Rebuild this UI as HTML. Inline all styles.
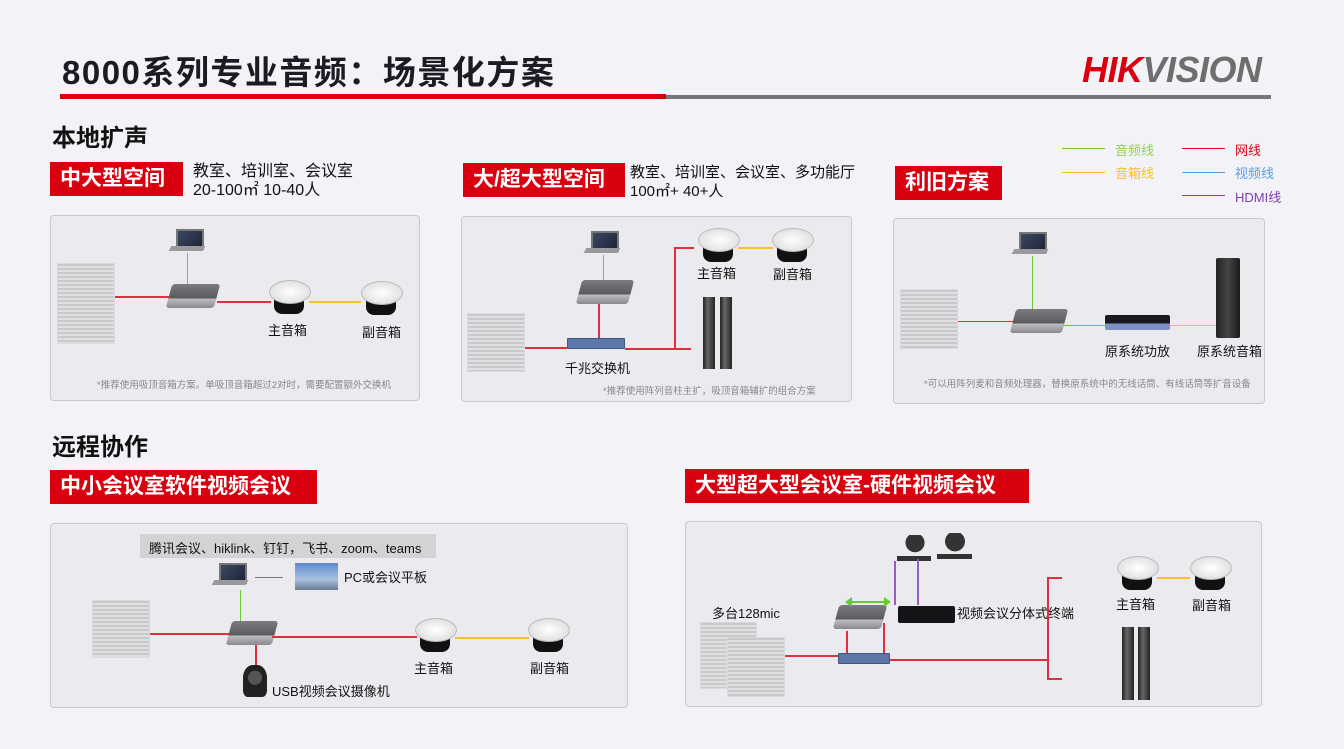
<!DOCTYPE html>
<html><head><meta charset="utf-8">
<style>
*{margin:0;padding:0;box-sizing:border-box}
body{width:1344px;height:749px;background:#f3f3f7;position:relative;overflow:hidden;font-family:"Liberation Sans","Noto Sans CJK SC",sans-serif;color:#111}
.a{position:absolute}
.panel{position:absolute;background:#ebebef;border:1px solid #c9c9cc;border-radius:4px}
.tag{position:absolute;background:#d9000f;color:#fff;font-weight:bold;font-size:21px;line-height:34px;padding-left:10px;white-space:nowrap}
.h2{position:absolute;font-weight:bold;font-size:24px;color:#111}
.mic{position:absolute;background:repeating-linear-gradient(#c9c9cc 0 2px,#e0e0e3 2px 4px);border:1px solid #dadadd}
.lap{position:absolute;width:34px;height:24px}
.lap:before{content:"";position:absolute;left:6px;top:0;width:24px;height:17px;background:linear-gradient(135deg,#3b4a66,#1c2233);border:2px solid #777}
.lap:after{content:"";position:absolute;left:0;top:17px;width:34px;height:5px;background:#9a9a9e;transform:skewX(-30deg)}
.hub{position:absolute;height:24px;background:linear-gradient(#7b7b7f,#5a5a5e 60%,#c0c0c4 60%,#8a8a8e);border-radius:3px;transform:skewX(-15deg)}
.spk{position:absolute;width:40px;height:36px}
.spk:before{content:"";position:absolute;left:0;top:0;width:40px;height:22px;border-radius:50%;background:radial-gradient(#fff,#d6d6d6);border:1px solid #bbb;z-index:1}
.spk:after{content:"";position:absolute;left:5px;top:12px;width:30px;height:22px;background:#111;border-radius:0 0 8px 8px}
.col{position:absolute;width:12px;background:linear-gradient(90deg,#222,#666 40%,#222);}
.sw{position:absolute;height:11px;background:#5b78a8;border:1px solid #3d5682;border-radius:1px}
.ln{position:absolute}
.r{background:#e03040}.g{background:#6cc832}.y{background:#f5c02a}.p{background:#9a5cc0}
.lbl{position:absolute;font-size:13px;white-space:nowrap;color:#111}
.note{position:absolute;font-size:9.5px;color:#888;white-space:nowrap}
.desc{position:absolute;font-size:16px;line-height:19px;white-space:nowrap}
</style></head><body>

<div class="a" style="left:62px;top:46px;font-size:33px;font-weight:bold;color:#1b1b24;letter-spacing:1.5px;white-space:nowrap">8000系列专业音频：场景化方案</div>
<div class="a" style="left:60px;top:94px;width:606px;height:5px;background:#d9000f"></div>
<div class="a" style="left:666px;top:95px;width:605px;height:4px;background:#777"></div>
<div class="a" style="left:1082px;top:49px;font-size:36px;font-weight:bold;font-style:italic;letter-spacing:-0.5px;white-space:nowrap"><span style="color:#d9000f">HIK</span><span style="color:#6e6e6e">VISION</span></div>

<!-- legend -->
<div class="ln g" style="left:1062px;top:148px;width:43px;height:1px"></div><div class="lbl" style="left:1115px;top:140px;color:#8fd15a">音频线</div>
<div class="ln y" style="left:1062px;top:172px;width:43px;height:1px"></div><div class="lbl" style="left:1115px;top:163px;color:#f5c02a">音箱线</div>
<div class="ln" style="left:1182px;top:148px;width:43px;height:1px;background:#e0001a"></div><div class="lbl" style="left:1235px;top:140px;color:#e0001a">网线</div>
<div class="ln" style="left:1182px;top:172px;width:43px;height:1px;background:#5b9be0"></div><div class="lbl" style="left:1235px;top:163px;color:#5b9be0">视频线</div>
<div class="ln p" style="left:1182px;top:195px;width:43px;height:1px;background:#7d3fb0"></div><div class="lbl" style="left:1235px;top:187px;color:#7d3fb0">HDMI线</div>

<div class="h2" style="left:52px;top:118px">本地扩声</div>
<div class="tag" style="left:50px;top:162px;width:133px">中大型空间</div>
<div class="desc" style="left:193px;top:162px">教室、培训室、会议室<br>20-100㎡ 10-40人</div>
<div class="tag" style="left:463px;top:163px;width:162px">大/超大型空间</div>
<div class="desc" style="left:630px;top:163px;font-size:15px">教室、培训室、会议室、多功能厅<br>100㎡+ 40+人</div>
<div class="tag" style="left:895px;top:166px;width:107px">利旧方案</div>

<!-- panel1 -->
<div class="panel" style="left:50px;top:215px;width:370px;height:186px"></div>
<div class="mic" style="left:57px;top:263px;width:58px;height:81px"></div>
<div class="lap" style="left:170px;top:229px"></div>
<div class="ln g" style="left:187px;top:253px;width:1px;height:31px"></div>
<div class="ln r" style="left:115px;top:296px;width:56px;height:2px"></div>
<div class="hub" style="left:169px;top:284px;width:48px"></div>
<div class="ln r" style="left:217px;top:301px;width:54px;height:2px"></div>
<div class="spk" style="left:269px;top:280px"></div>
<div class="ln y" style="left:309px;top:301px;width:52px;height:2px"></div>
<div class="spk" style="left:361px;top:281px"></div>
<div class="lbl" style="left:268px;top:320px">主音箱</div>
<div class="lbl" style="left:362px;top:322px">副音箱</div>
<div class="note" style="left:97px;top:377px">*推荐使用吸顶音箱方案。单吸顶音箱超过2对时，需要配置额外交换机</div>

<!-- panel2 -->
<div class="panel" style="left:461px;top:216px;width:391px;height:186px"></div>
<div class="mic" style="left:467px;top:313px;width:58px;height:59px"></div>
<div class="lap" style="left:585px;top:231px"></div>
<div class="ln g" style="left:603px;top:255px;width:1px;height:26px"></div>
<div class="hub" style="left:579px;top:280px;width:52px"></div>
<div class="ln r" style="left:598px;top:304px;width:2px;height:35px"></div>
<div class="sw" style="left:567px;top:338px;width:58px"></div>
<div class="ln r" style="left:525px;top:347px;width:42px;height:2px"></div>
<div class="ln r" style="left:625px;top:348px;width:66px;height:2px"></div>
<div class="ln r" style="left:674px;top:247px;width:2px;height:102px"></div>
<div class="ln r" style="left:674px;top:247px;width:20px;height:2px"></div>
<div class="spk" style="left:698px;top:228px"></div>
<div class="ln y" style="left:738px;top:247px;width:35px;height:2px"></div>
<div class="spk" style="left:772px;top:228px"></div>
<div class="lbl" style="left:697px;top:263px">主音箱</div>
<div class="lbl" style="left:773px;top:264px">副音箱</div>
<div class="col" style="left:703px;top:297px;height:72px"></div>
<div class="col" style="left:720px;top:297px;height:72px"></div>
<div class="lbl" style="left:565px;top:358px">千兆交换机</div>
<div class="note" style="left:603px;top:383px">*推荐使用阵列音柱主扩，吸顶音箱辅扩的组合方案</div>

<!-- panel3 -->
<div class="panel" style="left:893px;top:218px;width:372px;height:186px"></div>
<div class="mic" style="left:900px;top:289px;width:58px;height:60px"></div>
<div class="lap" style="left:1013px;top:232px"></div>
<div class="ln g" style="left:1032px;top:256px;width:1px;height:54px"></div>
<div class="ln r" style="left:958px;top:321px;width:56px;height:1px"></div>
<div class="hub" style="left:1013px;top:309px;width:52px"></div>
<div class="ln g" style="left:1063px;top:325px;width:43px;height:1px"></div>
<div class="a" style="left:1105px;top:315px;width:65px;height:15px;background:linear-gradient(#1a1a1e 55%,#7c92c4 55%);border-radius:2px"></div>
<div class="ln y" style="left:1170px;top:325px;width:46px;height:1px"></div>
<div class="a" style="left:1216px;top:258px;width:24px;height:80px;background:linear-gradient(90deg,#222,#444,#1a1a1a);border-radius:2px"></div>
<div class="lbl" style="left:1105px;top:341px">原系统功放</div>
<div class="lbl" style="left:1197px;top:341px">原系统音箱</div>
<div class="note" style="left:924px;top:376px">*可以用阵列麦和音频处理器，替换原系统中的无线话筒、有线话筒等扩音设备</div>

<div class="h2" style="left:52px;top:427px">远程协作</div>
<div class="tag" style="left:50px;top:470px;width:267px">中小会议室软件视频会议</div>
<div class="tag" style="left:685px;top:469px;width:344px">大型超大型会议室-硬件视频会议</div>

<!-- panel4 -->
<div class="panel" style="left:50px;top:523px;width:578px;height:185px"></div>
<div class="a" style="left:140px;top:534px;width:296px;height:24px;background:#d3d3d6"></div>
<div class="lbl" style="left:149px;top:538px">腾讯会议、hiklink、钉钉，飞书、zoom、teams</div>
<div class="lap" style="left:213px;top:563px"></div>
<div class="ln" style="left:255px;top:577px;width:28px;height:1px;background:#777"></div>
<div class="a" style="left:295px;top:563px;width:43px;height:27px;background:linear-gradient(#5d8bd0,#a8c0e0 60%,#6b7a90)"></div>
<div class="lbl" style="left:344px;top:567px">PC或会议平板</div>
<div class="mic" style="left:92px;top:600px;width:58px;height:58px"></div>
<div class="ln g" style="left:240px;top:590px;width:1px;height:32px"></div>
<div class="ln r" style="left:150px;top:633px;width:80px;height:2px"></div>
<div class="hub" style="left:229px;top:621px;width:46px"></div>
<div class="ln r" style="left:272px;top:636px;width:145px;height:2px"></div>
<div class="spk" style="left:415px;top:618px"></div>
<div class="ln y" style="left:455px;top:637px;width:74px;height:2px"></div>
<div class="spk" style="left:528px;top:618px"></div>
<div class="lbl" style="left:414px;top:658px">主音箱</div>
<div class="lbl" style="left:530px;top:658px">副音箱</div>
<div class="ln r" style="left:255px;top:645px;width:2px;height:22px"></div>
<div class="a" style="left:243px;top:665px;width:24px;height:32px;background:radial-gradient(circle at 50% 40%,#555 30%,#222 32%);border-radius:40% 40% 20% 20%"></div>
<div class="lbl" style="left:272px;top:681px">USB视频会议摄像机</div>

<!-- panel5 -->
<div class="panel" style="left:685px;top:521px;width:577px;height:186px"></div>
<div class="lbl" style="left:712px;top:603px">多台128mic</div>
<div class="mic" style="left:700px;top:622px;width:57px;height:67px"></div>
<div class="mic" style="left:727px;top:637px;width:58px;height:60px"></div>
<div class="a" style="left:900px;top:535px;width:30px;height:22px;background:radial-gradient(circle at 50% 35%,#333 45%,transparent 47%)"></div>
<div class="a" style="left:940px;top:533px;width:30px;height:24px;background:radial-gradient(circle at 50% 35%,#333 45%,transparent 47%)"></div>
<div class="a" style="left:897px;top:556px;width:34px;height:5px;background:#333"></div>
<div class="a" style="left:937px;top:554px;width:35px;height:5px;background:#333"></div>
<div class="ln p" style="left:894px;top:561px;width:2px;height:44px"></div>
<div class="ln p" style="left:917px;top:559px;width:2px;height:46px"></div>
<div class="hub" style="left:836px;top:605px;width:48px"></div>
<div class="ln g" style="left:846px;top:601px;width:44px;height:2px"></div>
<div class="a" style="left:845px;top:597px;width:0;height:0;border:5px solid transparent;border-right:7px solid #6cc832;border-left:0"></div>
<div class="a" style="left:884px;top:597px;width:0;height:0;border:5px solid transparent;border-left:7px solid #6cc832;border-right:0"></div>
<div class="a" style="left:898px;top:606px;width:57px;height:17px;background:#141416;border-radius:2px"></div>
<div class="lbl" style="left:957px;top:603px">视频会议分体式终端</div>
<div class="ln r" style="left:846px;top:631px;width:2px;height:24px"></div>
<div class="ln r" style="left:883px;top:623px;width:2px;height:32px"></div>
<div class="sw" style="left:838px;top:653px;width:52px"></div>
<div class="ln r" style="left:785px;top:655px;width:53px;height:2px"></div>
<div class="ln r" style="left:890px;top:659px;width:158px;height:2px"></div>
<div class="ln r" style="left:1047px;top:577px;width:2px;height:103px"></div>
<div class="ln r" style="left:1047px;top:577px;width:15px;height:2px"></div>
<div class="ln r" style="left:1047px;top:678px;width:15px;height:2px"></div>
<div class="spk" style="left:1117px;top:556px"></div>
<div class="ln y" style="left:1157px;top:577px;width:33px;height:2px"></div>
<div class="spk" style="left:1190px;top:556px"></div>
<div class="lbl" style="left:1116px;top:594px">主音箱</div>
<div class="lbl" style="left:1192px;top:595px">副音箱</div>
<div class="col" style="left:1122px;top:627px;height:73px"></div>
<div class="col" style="left:1138px;top:627px;height:73px"></div>
</body></html>
